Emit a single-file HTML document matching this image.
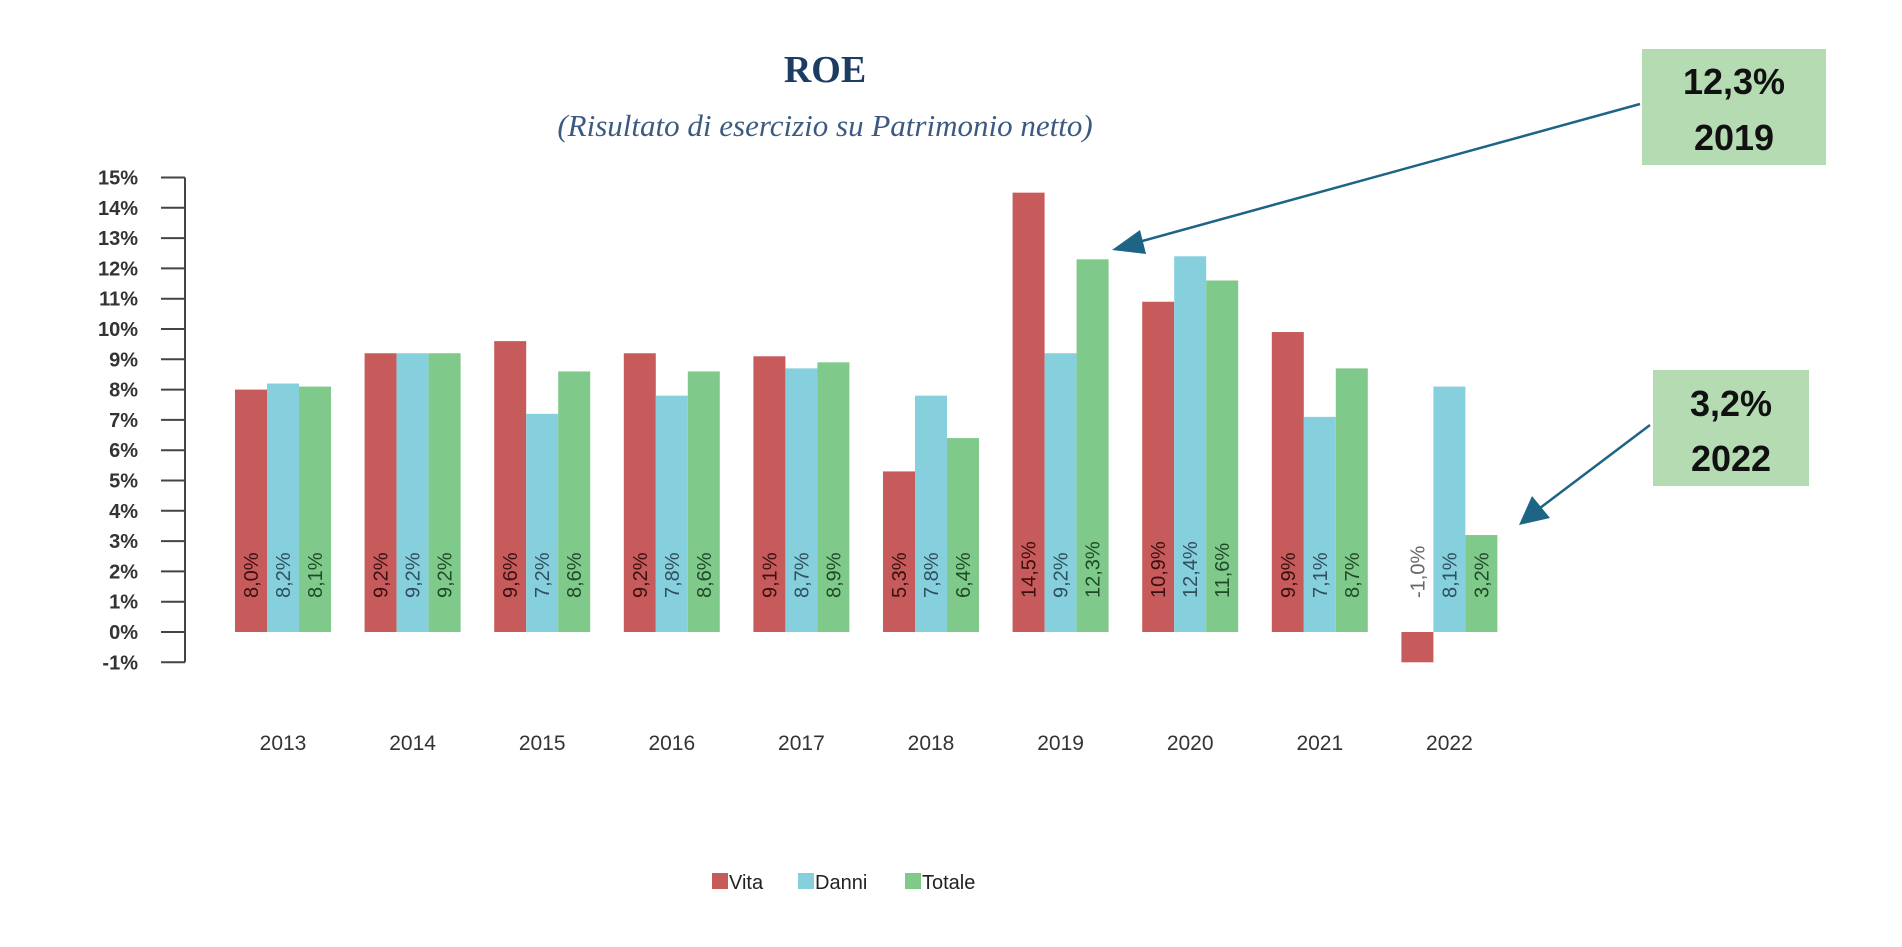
<!DOCTYPE html>
<html><head><meta charset="utf-8"><style>
body{margin:0;background:#fff;width:1902px;height:947px;overflow:hidden}
svg{display:block}
</style></head><body>
<svg width="1902" height="947" xmlns="http://www.w3.org/2000/svg" id="chart">
<text x="825" y="82" text-anchor="middle" font-family="Liberation Serif, serif" font-weight="bold" font-size="38" fill="#1d3c63">ROE</text>
<text x="825" y="136" text-anchor="middle" font-family="Liberation Serif, serif" font-style="italic" font-size="31" fill="#3c5a80">(Risultato di esercizio su Patrimonio netto)</text>
<g id="axis"></g>
<g id="bars"></g>
<g id="legend"></g>
<g>
<rect x="1642" y="49" width="184" height="116" fill="#b5dbb3"/>
<text x="1734" y="94" text-anchor="middle" font-family="Liberation Sans, sans-serif" font-weight="bold" font-size="36" fill="#111">12,3%</text>
<text x="1734" y="150" text-anchor="middle" font-family="Liberation Sans, sans-serif" font-weight="bold" font-size="36" fill="#111">2019</text>
<line x1="1640" y1="104" x2="1135" y2="243" stroke="#1e6485" stroke-width="2.5"/>
<polygon points="1112,250 1140,230 1146,254" fill="#1e6485"/>
</g>
<g>
<rect x="1653" y="370" width="156" height="116" fill="#b5dbb3"/>
<text x="1731" y="416" text-anchor="middle" font-family="Liberation Sans, sans-serif" font-weight="bold" font-size="36" fill="#111">3,2%</text>
<text x="1731" y="471" text-anchor="middle" font-family="Liberation Sans, sans-serif" font-weight="bold" font-size="36" fill="#111">2022</text>
<line x1="1650" y1="425" x2="1540" y2="508" stroke="#1e6485" stroke-width="2.5"/>
<polygon points="1519,525 1532,496 1550,518" fill="#1e6485"/>
</g>
</svg>
<script>
const years=["2013","2014","2015","2016","2017","2018","2019","2020","2021","2022"];
const vita=[8.0,9.2,9.6,9.2,9.1,5.3,14.5,10.9,9.9,-1.0];
const danni=[8.2,9.2,7.2,7.8,8.7,7.8,9.2,12.4,7.1,8.1];
const totale=[8.1,9.2,8.6,8.6,8.9,6.4,12.3,11.6,8.7,3.2];
const ticks=[-1,0,1,2,3,4,5,6,7,8,9,10,11,12,13,14,15];
const seriesNames=["Vita","Danni","Totale"];
const NS="http://www.w3.org/2000/svg";
const zeroY=632,pxPer=30.3;
function y(v){return zeroY-v*pxPer;}
function gx(i){return 235+i*129.6;}
const bw=32;
const colors=["#c75b5b","#86cfdd","#7fc98a"];
const txtCol=["#3a0f10","#2f4f5c","#1f4a28"];
function mk(tag,attrs,parent){const e=document.createElementNS(NS,tag);for(const k in attrs)e.setAttribute(k,attrs[k]);parent.appendChild(e);return e;}
const ax=document.getElementById('axis');
const axl=mk('line',{x1:185,x2:185,y1:y(15),y2:y(-1),stroke:'#444','stroke-width':2},ax);


ticks.forEach(t=>{
 const l=mk('line',{x1:161,x2:185,y1:y(t),y2:y(t),stroke:'#444','stroke-width':2},ax);
 
 
 const tx=mk('text',{x:138,y:y(t)+7,'text-anchor':'end','font-family':'Liberation Sans, sans-serif','font-weight':'bold','font-size':20,fill:'#333'},ax);
 tx.textContent=t+'%';
 
 
});
const bg=document.getElementById('bars');
const all=[vita,danni,totale];
years.forEach((yr,i)=>{
 all.forEach((s,k)=>{
  const v=s[i];const x=gx(i)+k*bw;
  const top=Math.min(y(v),y(0)),h=Math.abs(y(v)-y(0));
  const r=mk('rect',{x:x,y:top,width:bw,height:h,fill:colors[k]},bg);
  
  
  const cx=x+bw/2+7,cy=598;
  const t=mk('text',{x:cx,y:cy,transform:'rotate(-90 '+cx+' '+cy+')','font-family':'Liberation Sans, sans-serif','font-size':20,fill:v<0?'#666':txtCol[k]},bg);
  t.textContent=v.toFixed(1).replace('.',',')+'%';
  
  
 });
 const yl=mk('text',{x:gx(i)+48,y:750,'text-anchor':'middle','font-family':'Liberation Sans, sans-serif','font-size':21,fill:'#333'},bg);
 yl.textContent=yr;
 
 
});
const lg=document.getElementById('legend');
const lx=[712,798,905];
seriesNames.forEach((n,k)=>{
 const r=mk('rect',{x:lx[k],y:873,width:16,height:16,fill:colors[k]},lg);
 
 
 const t=mk('text',{x:lx[k]+17,y:889,'font-family':'Liberation Sans, sans-serif','font-size':20,fill:'#222'},lg);
 t.textContent=n;
 
 
});
</script>
</body></html>
